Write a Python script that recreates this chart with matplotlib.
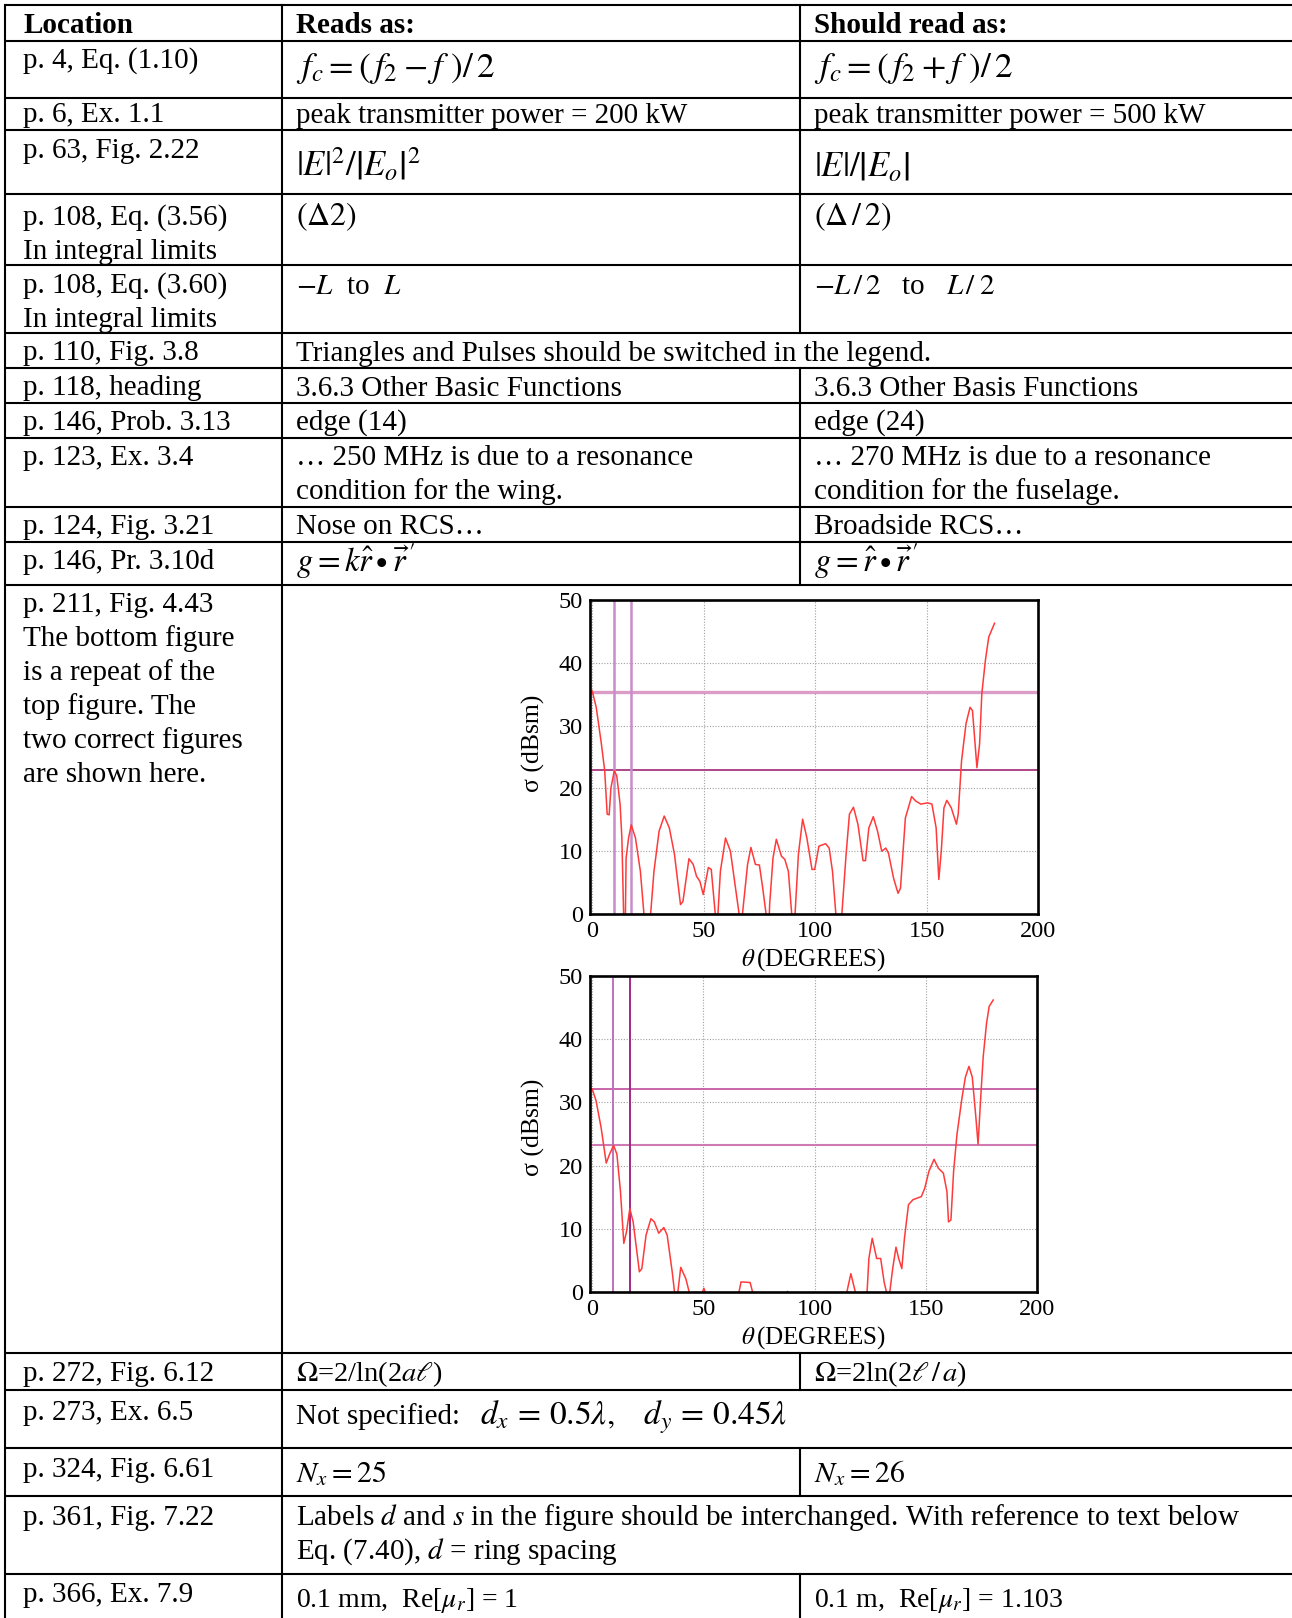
import matplotlib
matplotlib.use('Agg')
import matplotlib.pyplot as plt

plt.rcParams['font.family'] = ['Liberation Serif', 'DejaVu Serif']
plt.rcParams['mathtext.fontset'] = 'stix'

W, H = 1292, 1618

# ---------------- table content ----------------
header = ["Location", "Reads as:", "Should read as:"]

locations = [
    ["p. 4, Eq. (1.10)"],
    ["p. 6, Ex. 1.1"],
    ["p. 63, Fig. 2.22"],
    ["p. 108, Eq. (3.56)", "In integral limits"],
    ["p. 108, Eq. (3.60)", "In integral limits"],
    ["p. 110, Fig. 3.8"],
    ["p. 118, heading"],
    ["p. 146, Prob. 3.13"],
    ["p. 123, Ex. 3.4"],
    ["p. 124, Fig. 3.21"],
    ["p. 146, Pr. 3.10d"],
    ["p. 211, Fig. 4.43", "The bottom figure", "is a repeat of the",
     "top figure. The", "two correct figures", "are shown here."],
    ["p. 272, Fig. 6.12"],
    ["p. 273, Ex. 6.5"],
    ["p. 324, Fig. 6.61"],
    ["p. 361, Fig. 7.22"],
    ["p. 366, Ex. 7.9"],
]

reads_as = [
    [r'$f_c = (\,f_2 - f\ )/\,2$'],
    ["peak transmitter power = 200 kW"],
    [r'$\left|E\right|^2/\left|E_o\right|^2$'],
    [r'$(\Delta 2)$'],
    [r'$-L$  to  $L$'],
    ["Triangles and Pulses should be switched in the legend."],
    ["3.6.3 Other Basic Functions"],
    ["edge (14)"],
    ["\u2026 250 MHz is due to a resonance", "condition for the wing."],
    ["Nose on RCS\u2026"],
    [r"$g = k\hat{r}\bullet\vec{r}^{\,\prime}$"],
    [],
    [r'$\Omega$=2/ln(2$a\ell$)'],
    [r'Not specified:  $d_x\,=\,0.5\lambda,\quad d_y\,=\,0.45\lambda$'],
    [r'$N_x = 25$'],
    [r'Labels $d$ and $s$ in the figure should be interchanged. With reference to text below',
     r'Eq. (7.40), $d$ = ring spacing'],
    [r'0.1 mm,  Re[$\mu_r$] = 1'],
]

should_read = [
    [r'$f_c = (\,f_2 + f\ )/\,2$'],
    ["peak transmitter power = 500 kW"],
    [r'$\left|E\right|/\left|E_o\right|$'],
    [r'$(\Delta\,/\,2)$'],
    [r'$-L\,/\,2$   to   $L\,/\;2$'],
    None,
    ["3.6.3 Other Basis Functions"],
    ["edge (24)"],
    ["\u2026 270 MHz is due to a resonance", "condition for the fuselage."],
    ["Broadside RCS\u2026"],
    [r"$g = \hat{r}\bullet\vec{r}^{\,\prime}$"],
    None,
    [r'$\Omega$=2ln(2$\ell\,/\,a$)'],
    None,
    [r'$N_x = 26$'],
    None,
    [r'0.1 m,  Re[$\mu_r$] = 1.103'],
]

# ---------------- chart data (Fig. 4.43) ----------------
theta_top = [0, 1.8, 4.1, 5.6, 6.7, 7.6, 8.4, 9.9, 11.0, 12.5,
             13.3, 14.6, 15.2, 16.3, 17.5, 19.4, 21.6, 23.2, 24.7, 26.2,
             27.7, 30.0, 32.3, 34.6, 36.9, 39.6, 40.7, 43.4, 45.3, 46.8,
             48.3, 49.8, 52.1, 53.4, 55.2, 55.8, 56.4, 57.5, 59.8, 62.0,
             64.3, 65.9, 66.7, 67.4, 69.7, 71.2, 73.2, 75.0, 76.5, 78.0,
             78.7, 79.6, 81.1, 82.6, 84.9, 86.4, 88.0, 89.5, 90.2, 91.0,
             92.5, 94.4, 96.3, 98.6, 99.8, 101.7, 104.7, 106.3, 107.8, 109.3,
             110.6, 112.0, 113.9, 115.4, 117.2, 119.2, 121.5, 122.6, 124.1, 126.1,
             128.0, 129.9, 131.7, 132.9, 135.2, 137.2, 138.3, 140.5, 143.3, 145.1,
             147.4, 150.5, 152.4, 154.3, 155.5, 156.6, 157.8, 159.1, 161.1, 163.4,
             164.2, 165.7, 167.7, 169.5, 170.6, 172.6, 173.8, 174.8, 176.4, 177.9,
             180.5]
sigma_top = [35.5, 32.9, 27.1, 22.8, 15.9, 15.8, 20.1, 22.8, 22.0, 17.5,
             12.1, -8, 8.9, 12.1, 14.2, 12.1, 6.8, 0, -8, 0,
             6.8, 13.2, 15.6, 13.7, 9.5, 1.5, 2.0, 8.8, 7.9, 6.0,
             5.2, 3.1, 7.4, 7.1, 0, -8, 0, 6.8, 12.1, 10.0,
             4.1, 0, -8, 0, 7.9, 10.6, 7.9, 7.8, 4.1, 0,
             -8, 1.5, 8.9, 11.9, 9.2, 8.7, 6.8, 0, -8, 0,
             9.5, 15.1, 12.1, 7.1, 7.1, 10.8, 11.2, 10.5, 6.8, 0,
             -8, 0, 9.5, 15.9, 17.0, 14.3, 8.5, 8.5, 13.7, 15.5,
             13.2, 10.0, 10.5, 9.7, 5.7, 3.3, 4.1, 15.3, 18.7, 18.0,
             17.5, 17.7, 17.5, 13.7, 5.5, 10.0, 16.9, 18.1, 16.9, 14.3,
             15.9, 24.4, 30.3, 32.9, 32.4, 23.3, 27.1, 35.1, 40.4, 44.1,
             46.3]
hlines_top = [35.4, 22.9]
vlines_top = [9.9, 17.5]

theta_bot = [0, 1.7, 4.0, 6.3, 7.8, 9.6, 11.1, 12.7, 14.2, 15.4,
             16.9, 18.4, 21.2, 22.3, 24.2, 26.4, 27.9, 29.9, 32.2, 33.7,
             36.0, 37.0, 37.6, 38.5, 39.8, 42.1, 43.6, 46.5, 49.6, 50.2,
             50.8, 58.0, 66.0, 66.9, 71.0, 72.1, 80.0, 87.5, 87.8, 88.1,
             100.0, 114.5, 116.3, 118.3, 121.0, 123.6, 124.4, 125.9, 127.9, 129.7,
             131.3, 132.3, 133.0, 133.8, 135.1, 136.6, 137.8, 139.2, 140.4, 142.2,
             144.2, 148.0, 149.5, 151.4, 153.7, 155.6, 157.9, 159.5, 160.2, 161.3,
             162.5, 164.0, 166.3, 167.8, 169.4, 170.9, 172.4, 173.5, 174.7, 175.8,
             177.3, 178.5, 180.3]
sigma_bot = [32.1, 30.3, 26.0, 20.4, 21.8, 23.2, 21.8, 15.9, 7.7, 9.5,
             13.2, 11.1, 3.2, 3.7, 9.0, 11.6, 11.1, 9.3, 10.2, 9.0,
             3.1, 0, -8, 0, 3.9, 2.1, 0, -10, 0, 0.6,
             0, -10, 0, 1.6, 1.5, 0, -10, -0.5, 0.1, -0.5,
             -10, 0, 2.9, 0, -8, 0, 5.3, 8.5, 5.3, 5.3,
             1.5, 0, -6, 0, 3.7, 7.1, 5.3, 3.7, 8.5, 13.8,
             14.6, 15.1, 16.4, 19.1, 21.0, 19.6, 18.8, 15.9, 11.1, 11.4,
             19.1, 24.9, 30.8, 34.0, 35.7, 34.0, 28.1, 23.4, 30.8, 37.2,
             42.5, 45.2, 46.2]
hlines_bot = [32.1, 23.3]
vlines_bot = [9.3, 16.9]

x_ticks = [0, 50, 100, 150, 200]
y_ticks = [0, 10, 20, 30, 40, 50]

# ---------------- layout ----------------
row_lines = [5, 41, 98, 130, 194, 265, 333, 368, 403, 438, 507, 542, 585,
             1353, 1390, 1448, 1496, 1574]
col_x = [5, 282, 800]
text_x = [23, 296, 814]
FS = 21
LINE = 34
reads_off = [36, 25, 46, 31, 29, 28, 28, 27, 27, 27, 29, 0, 28, 34, 34, 29, 33]
loc_off = [27, 24, 28, 31, 28, 27, 27, 27, 27, 27, 27, 27, 28, 30, 29, 29, 28]
reads_fs = [25.5, FS, 25, 23, 21, FS, FS, FS, FS, FS, 23.5, FS, 20.5, FS, 21.5, FS, 20]

fig = plt.figure(figsize=(W / 100, H / 100), dpi=100)
bg = fig.add_axes([0, 0, 1, 1])
bg.set_xlim(0, W)
bg.set_ylim(H, 0)
bg.axis('off')

LW = 1.5
for y in row_lines:
    bg.plot([col_x[0], W], [y, y], color='black', lw=LW, solid_capstyle='butt')
bg.plot([col_x[0], col_x[0]], [row_lines[0], H], color='black', lw=LW)
bg.plot([col_x[1], col_x[1]], [row_lines[0], H], color='black', lw=LW)
bounds = row_lines + [H]
bg.plot([col_x[2], col_x[2]], [bounds[0], bounds[1]], color='black', lw=LW)
for i, s in enumerate(should_read):
    if s is not None:
        bg.plot([col_x[2], col_x[2]], [bounds[i + 1], bounds[i + 2]], color='black', lw=LW)

for j, h in enumerate(header):
    bg.text(text_x[j], row_lines[0] + 28, h, fontsize=FS, fontweight='bold',
            va='baseline', ha='left')


def put_line(x, y, line, fs):
    # "Not specified:" keeps text size, the formula part is larger
    if line.startswith('Not specified:'):
        lead, rest = line.split('  ', 1)
        t = bg.text(x, y, lead, fontsize=fs, va='baseline', ha='left')
        bb = t.get_window_extent(fig.canvas.get_renderer())
        bg.text(x + bb.width + 20, y, rest, fontsize=24, va='baseline', ha='left')
    else:
        bg.text(x, y, line, fontsize=fs, va='baseline', ha='left')


for i in range(len(locations)):
    top = row_lines[i + 1]
    for k, line in enumerate(locations[i]):
        bg.text(text_x[0], top + loc_off[i] + k * LINE, line, fontsize=FS,
                va='baseline', ha='left')
    for k, line in enumerate(reads_as[i]):
        put_line(text_x[1], top + reads_off[i] + k * LINE, line, reads_fs[i])
    if should_read[i]:
        for k, line in enumerate(should_read[i]):
            put_line(text_x[2], top + reads_off[i] + k * LINE, line, reads_fs[i])


def draw_chart(px_left, px_right, px_top, px_bottom, theta, sigma, hl, hcol, hlw,
               vl, vcol, vlw, ylab_y):
    ax = fig.add_axes([px_left / W, 1 - px_bottom / H, (px_right - px_left) / W,
                       (px_bottom - px_top) / H])
    ax.set_xlim(-1, 200)
    ax.set_ylim(0, 50)
    ax.set_xticks(x_ticks)
    ax.set_yticks(y_ticks)
    ax.grid(True, color='#a0a0a0', linestyle=(0, (1, 1.5)), linewidth=0.8)
    ax.set_axisbelow(True)
    for h, c, w in zip(hl, hcol, hlw):
        ax.axhline(h, color=c, lw=w, zorder=1.5)
    for v, c, w in zip(vl, vcol, vlw):
        ax.axvline(v, color=c, lw=w, zorder=1.5)
    ax.plot(theta, sigma, color='#ff3a3a', lw=1.1, zorder=2)
    ax.tick_params(length=0, labelsize=17.5, pad=5)
    for s in ax.spines.values():
        s.set_linewidth(1.9)
        s.set_zorder(3)
    ax.set_xlabel(r'$\theta\,$(DEGREES)', fontsize=18, labelpad=3)
    ax.set_ylabel('\u03c3 (dBsm)', fontsize=18.5)
    ax.yaxis.set_label_coords(-0.10, ylab_y)
    return ax


draw_chart(590, 1038, 600, 914, theta_top, sigma_top,
           hlines_top, ['#dc9cc8', '#a8387e'], [2.4, 1.3],
           vlines_top, ['#c88cc8', '#c88cc8'], [1.8, 1.8], 0.545)
draw_chart(590, 1037, 976, 1292, theta_bot, sigma_bot,
           hlines_bot, ['#c45aa4', '#d07ab4'], [1.3, 1.5],
           vlines_bot, ['#c070bc', '#a02888'], [1.4, 1.4], 0.52)

fig.savefig('out.png', dpi=100)
